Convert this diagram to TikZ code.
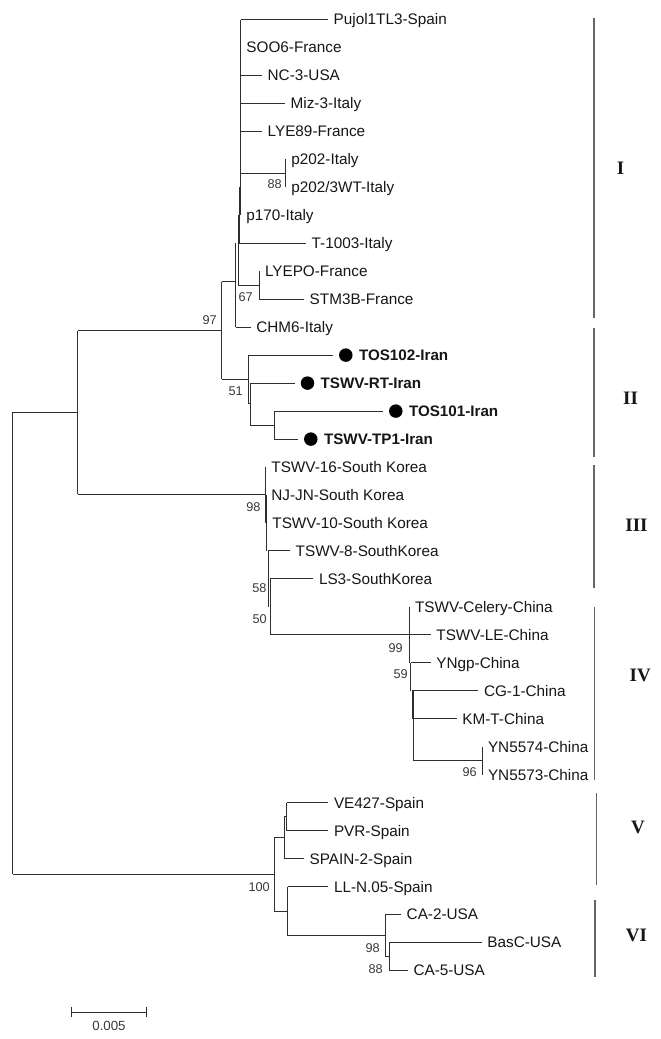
\documentclass[tikz,border=0pt]{standalone}
\usepackage{fontspec}
\setmainfont{Liberation Sans}
\newfontfamily\romfont{Liberation Serif}
\definecolor{ln}{HTML}{2E2E2E}
\definecolor{txt}{HTML}{161616}
\definecolor{brk}{HTML}{666666}
\newcommand{\leaf}[4]{\coordinate (#1) at (#2,#3);
  \node[lbl] (#1l) at ([xshift=5.5pt]#1) {#4};}
\newcommand{\iranleaf}[4]{\coordinate (#1) at (#2,#3);
  \node[irdot] (#1d) at ([xshift=12.5pt]#1) {};
  \node[lbl,font=\fontsize{15.2}{15.2}\selectfont\bfseries] (#1l) at ([xshift=25.5pt]#1) {#4};}
\begin{document}
\begin{tikzpicture}[x=1pt,y=-1pt,
  tree/.style={draw=ln,line width=1pt},
  lbl/.style={anchor=west,inner sep=0pt,text height=10.8pt,text depth=0pt,text=txt,font=\fontsize{15.3}{15.3}\selectfont},
  bs/.style={anchor=east,inner sep=0pt,text height=9pt,text depth=0pt,text=txt!85,font=\fontsize{12.7}{12.7}\selectfont},
  irdot/.style={circle,fill=black,inner sep=0pt,minimum size=13.5pt},
  brack/.style={draw=brk,line width=1.2pt},
  clab/.style={inner sep=0pt,text height=12.5pt,text depth=0pt,text=txt,font=\fontsize{19}{19}\selectfont\romfont\bfseries}]
\useasboundingbox[fill=white] (0,0) rectangle (661,1039);

% leaves
\leaf{pujol}{328}{19.5}{Pujol1TL3-Spain}
\leaf{soo}{240.7}{47.5}{SOO6-France}
\leaf{nc}{262}{75.4}{NC-3-USA}
\leaf{miz}{285}{103.4}{Miz-3-Italy}
\leaf{lye}{262}{131.4}{LYE89-France}
\leaf{pa}{285.7}{159.4}{p202-Italy}
\leaf{pb}{285.7}{187.3}{p202/3WT-Italy}
\leaf{pc}{240.7}{215.3}{p170-Italy}
\leaf{t1003}{306}{243.3}{T-1003-Italy}
\leaf{lyepo}{259.3}{271.2}{LYEPO-France}
\leaf{stm}{304}{299.2}{STM3B-France}
\leaf{chm}{250.7}{327.2}{CHM6-Italy}
\iranleaf{tosa}{333.3}{355.1}{TOS102-Iran}
\iranleaf{rt}{295}{383.1}{TSWV-RT-Iran}
\iranleaf{tosb}{383.3}{411.1}{TOS101-Iran}
\iranleaf{tp}{298.3}{439.1}{TSWV-TP1-Iran}
\leaf{ka}{265.7}{467}{TSWV-16-South Korea}
\leaf{kb}{265.7}{495}{NJ-JN-South Korea}
\leaf{kc}{266.7}{523}{TSWV-10-South Korea}
\leaf{kd}{290}{550.9}{TSWV-8-SouthKorea}
\leaf{ke}{313.3}{578.9}{LS3-SouthKorea}
\leaf{ca}{409.3}{606.9}{TSWV-Celery-China}
\leaf{cb}{430.7}{634.8}{TSWV-LE-China}
\leaf{cc}{430.7}{662.8}{YNgp-China}
\leaf{cd}{478.3}{690.8}{CG-1-China}
\leaf{ce}{456.7}{718.8}{KM-T-China}
\leaf{cf}{482.3}{746.7}{YN5574-China}
\leaf{cg}{482.3}{774.7}{YN5573-China}
\leaf{va}{328.3}{802.7}{VE427-Spain}
\leaf{vb}{328.3}{830.6}{PVR-Spain}
\leaf{vc}{304}{858.6}{SPAIN-2-Spain}
\leaf{vd}{328.3}{886.6}{LL-N.05-Spain}
\leaf{ua}{401}{914.5}{CA-2-USA}
\leaf{ub}{481.7}{942.5}{BasC-USA}
\leaf{uc}{407.8}{970.5}{CA-5-USA}

% internal nodes
\coordinate (nA) at (240.7,117.4);
\coordinate (nA2) at (240.0,152.4);
\coordinate (nP) at (285.7,173.3);
\coordinate (nB) at (239.2,215);
\coordinate (nC) at (238.3,244);
\coordinate (nL) at (259.3,285.2);
\coordinate (nD2) at (235.7,281.7);
\coordinate (nD) at (221.7,330.5);
\coordinate (nI1) at (248.3,379.3);
\coordinate (nI2) at (250.3,403.5);
\coordinate (nI3) at (274,425.1);
\coordinate (nR2) at (77.7,412.4);
\coordinate (root) at (12.7,643.3);
\coordinate (nK1) at (265.7,494.3);
\coordinate (nK2) at (266.7,527);
\coordinate (nK3) at (268.3,578);
\coordinate (nK4) at (270.3,606.9);
\coordinate (nM) at (409.3,634.8);
\coordinate (nN) at (410.7,670);
\coordinate (nO) at (412.3,705);
\coordinate (nO2) at (413.3,732);
\coordinate (nY) at (482.3,760.7);
\coordinate (nG) at (274.3,874.3);
\coordinate (nH) at (284,837.7);
\coordinate (nH1) at (286.7,816.7);
\coordinate (nI) at (287.7,911.7);
\coordinate (nJ) at (385,935.6);
\coordinate (nU) at (389.3,956.5);

% clade I
\draw[tree] (nA |- pujol) -- (nA |- pc);
\draw[tree] (nA |- pujol) -- (pujol);
\draw[tree] (nA |- nc) -- (nc);
\draw[tree] (nA |- miz) -- (miz);
\draw[tree] (nA2 |- lye) -- (nA2 |- nP);
\draw[tree] (nA2 |- lye) -- (lye);
\draw[tree] (nA2 |- nP) -- (nP);
\draw[tree] (nP |- pa) -- (nP |- pb);
\draw[tree] (nB |- pb) -- (nB |- t1003);
\draw[tree] (nB |- t1003) -- (t1003);
\draw[tree] (nC |- pc) -- (nC |- nL);
\draw[tree] (nC |- nL) -- (nL);
\draw[tree] (nL |- lyepo) -- (nL |- stm);
\draw[tree] (nL |- stm) -- (stm);
\draw[tree] (nD2 |- t1003) -- (nD2 |- chm);
\draw[tree] (nD2 |- chm) -- (chm);
\draw[tree] (nD |- nD2) -- (nD2);
\draw[tree] (nD |- nD2) -- (nD |- nI1);
% clade II
\draw[tree] (nD |- nI1) -- (nI1);
\draw[tree] (nI1 |- tosa) -- (nI1 |- nI2);
\draw[tree] (nI1 |- tosa) -- (tosa);
\draw[tree] (nI1 |- nI2) -- (nI2);
\draw[tree] (nI2 |- rt) -- (nI2 |- nI3);
\draw[tree] (nI2 |- rt) -- (rt);
\draw[tree] (nI2 |- nI3) -- (nI3);
\draw[tree] (nI3 |- tosb) -- (nI3 |- tp);
\draw[tree] (nI3 |- tosb) -- (tosb);
\draw[tree] (nI3 |- tp) -- (tp);
% backbone
\draw[tree] (nR2 |- nD) -- (nD);
\draw[tree] (nR2 |- nD) -- (nR2 |- nK1);
\draw[tree] (nR2 |- nK1) -- (nK1);
\draw[tree] (root |- nR2) -- (nR2);
\draw[tree] (root |- nR2) -- (root |- nG);
\draw[tree] (root |- nG) -- (nG);
% clade III
\draw[tree] (nK1 |- ka) -- (nK1 |- kc);
\draw[tree] (nK2 |- kb) -- (nK2 |- kd);
\draw[tree] (nK3 |- kd) -- (nK3 |- nK4);
\draw[tree] (nK3 |- kd) -- (kd);
\draw[tree] (nK4 |- ke) -- (nK4 |- nM);
\draw[tree] (nK4 |- ke) -- (ke);
\draw[tree] (nK4 |- nM) -- (nM);
% clade IV
\draw[tree] (nM |- ca) -- (nM |- cc);
\draw[tree] (nM |- cb) -- (cb);
\draw[tree] (nN |- cc) -- (nN |- cd);
\draw[tree] (nN |- cc) -- (cc);
\draw[tree] (nO |- cd) -- (nO |- ce);
\draw[tree] (nO |- cd) -- (cd);
\draw[tree] (nO2 |- cd) -- (nO2 |- nY);
\draw[tree] (nO2 |- ce) -- (ce);
\draw[tree] (nO2 |- nY) -- (nY);
\draw[tree] (nY |- cf) -- (nY |- cg);
% clades V and VI
\draw[tree] (nG |- nH) -- (nG |- nI);
\draw[tree] (nG |- nH) -- (nH);
\draw[tree] (nH |- nH1) -- (nH |- vc);
\draw[tree] (nH |- nH1) -- (nH1);
\draw[tree] (nH1 |- va) -- (nH1 |- vb);
\draw[tree] (nH1 |- va) -- (va);
\draw[tree] (nH1 |- vb) -- (vb);
\draw[tree] (nH |- vc) -- (vc);
\draw[tree] (nG |- nI) -- (nI);
\draw[tree] (nI |- vd) -- (nI |- nJ);
\draw[tree] (nI |- vd) -- (vd);
\draw[tree] (nI |- nJ) -- (nJ);
\draw[tree] (nJ |- ua) -- (nJ |- nU);
\draw[tree] (nJ |- ua) -- (ua);
\draw[tree] (nJ |- nU) -- (nU);
\draw[tree] (nU |- ub) -- (nU |- uc);
\draw[tree] (nU |- ub) -- (ub);
\draw[tree] (nU |- uc) -- (uc);

% bootstrap values
\node[bs] (b88a) at (282,183.5) {88};
\node[bs] (b67) at (253,296.5) {67};
\node[bs] (b97) at (217,319.5) {97};
\node[bs] (b51) at (243,391) {51};
\node[bs] (b98a) at (260.7,506.7) {98};
\node[bs] (b58) at (266.7,588) {58};
\node[bs] (b50) at (267,619) {50};
\node[bs] (b99) at (403,647.5) {99};
\node[bs] (b59) at (408,673.5) {59};
\node[bs] (b96) at (477,771.7) {96};
\node[bs] (b100) at (270,886.7) {100};
\node[bs] (b98b) at (380,947.7) {98};
\node[bs] (b88b) at (383,969.3) {88};

% clade brackets
\coordinate (g1t) at (594,18);   \coordinate (g1b) at (594,318);
\coordinate (g2t) at (594,328.3); \coordinate (g2b) at (594,456.7);
\coordinate (g3t) at (594,465);  \coordinate (g3b) at (594,588);
\coordinate (g4t) at (594.5,607); \coordinate (g4b) at (594.5,780);
\coordinate (g5t) at (596.7,793); \coordinate (g5b) at (596.7,885);
\coordinate (g6t) at (595,900);  \coordinate (g6b) at (595,977);
\draw[brack] (g1t) -- (g1b);
\draw[brack] (g2t) -- (g2b);
\draw[brack] (g3t) -- (g3b);
\draw[brack] (g4t) -- (g4b);
\draw[brack] (g5t) -- (g5b);
\draw[brack] (g6t) -- (g6b);
\node[clab] (c1) at (620.5,168) {I};
\node[clab] (c2) at (630.5,398) {II};
\node[clab] (c3) at (636.5,525) {III};
\node[clab] (c4) at (640.3,675) {IV};
\node[clab] (c5) at (638,827) {V};
\node[clab] (c6) at (636.5,935) {VI};

% scale bar
\coordinate (sbl) at (71,1012.3);
\coordinate (sbr) at (146.7,1012.3);
\draw[tree] (sbl) -- (sbr);
\draw[tree] ([yshift=5pt]sbl) -- ([yshift=-5pt]sbl);
\draw[tree] ([yshift=5pt]sbr) -- ([yshift=-5pt]sbr);
\node[inner sep=0pt,text height=9.5pt,text depth=0pt,text=txt!85,font=\fontsize{13.3}{13.3}\selectfont] (sbt) at (109,1025.5) {0.005};
\end{tikzpicture}
\end{document}
